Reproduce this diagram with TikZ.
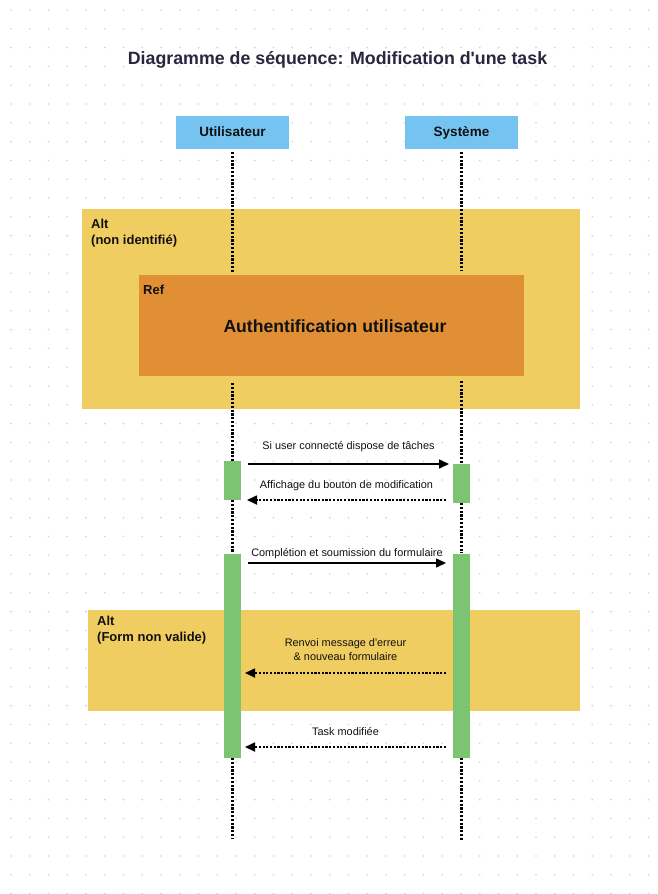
\documentclass[tikz,border=0pt]{standalone}
\usepackage{fontspec}
\setmainfont{Liberation Sans}
\usetikzlibrary{arrows.meta,calc}
\definecolor{gridgray}{HTML}{D2D2D2}
\definecolor{titleink}{HTML}{2B2540}
\definecolor{actorblue}{HTML}{75C3F1}
\definecolor{altyellow}{HTML}{F0CD60}
\definecolor{reforange}{HTML}{E08F35}
\definecolor{actgreen}{HTML}{7CC472}
\definecolor{ink}{HTML}{111111}
\begin{document}
\begin{tikzpicture}[x=1pt,y=-1pt,
  box/.style={anchor=north west, inner sep=0pt, outer sep=0pt, draw=none},
  actor/.style={box, fill=actorblue, minimum width=113pt, minimum height=33pt,
    font=\fontsize{13.5}{15}\selectfont\bfseries, text=ink,
    text height=9.5pt, text depth=2.5pt},
  fragment/.style={box, fill=altyellow},
  refbox/.style={box, fill=reforange},
  activation/.style={box, fill=actgreen, minimum width=17pt},
  tag/.style={anchor=north west, inner sep=0pt, align=left,
    font=\fontsize{13}{15.5}\selectfont\bfseries, text=ink},
  lifeline/.style={draw=black, line width=2.2pt, dash pattern=on 2.2pt off 1.6pt},
  call/.style={draw=black, line width=1.5pt, -{Triangle[length=10pt,width=9pt]}},
  reply/.style={draw=black, line width=1.7pt, dash pattern=on 2.2pt off 1.5pt,
    -{Triangle[length=10pt,width=9pt]}},
  msglabel/.style={midway, inner sep=0pt, align=center,
    font=\fontsize{10.9}{13.5}\selectfont, text=ink}
]
\useasboundingbox (0,0) rectangle (657,894);
\fill[white] (0,0) rectangle (657,894);

% dotted canvas
\foreach \i in {0,...,34}
  \foreach \j in {0,...,47}
    \fill[gridgray] (11+18.75*\i, 10+18.8*\j) circle (0.9pt);

% title
\node[font=\fontsize{17.8}{20}\selectfont\bfseries, text=titleink] (title) at (337.5,60)
  {Diagramme de séquence: Modification d\textquotesingle une task};

% participants
\node[actor] (ua) at (176,116) {Utilisateur};
\node[actor] (sa) at (405,116) {Système};

% combined fragments
\node[fragment, minimum width=498pt, minimum height=200pt] (alt1) at (82,209) {};
\node[tag] (alt1tag) at (91,219) {Alt\\(non identifié)};
\node[fragment, minimum width=492pt, minimum height=101pt] (alt2) at (88,610) {};
\node[tag] (alt2tag) at (97,616) {Alt\\(Form non valide)};

% end points of the lifelines
\coordinate (uend) at (232.5,838);
\coordinate (send) at (461.5,840);

% lifelines above the reference frame
\draw[lifeline, shorten <=3pt, shorten >=3pt] (ua.south) -- (ua.south |- 0,275);
\draw[lifeline, shorten <=3pt, shorten >=4pt] (sa.south) -- (sa.south |- 0,275);

% reference frame
\node[refbox, minimum width=385pt, minimum height=101pt] (ref) at (139,275) {};
\node[tag] (reftag) at (143,284.5) {Ref};
\node[font=\fontsize{17.6}{20}\selectfont\bfseries, text=ink] (reftitle) at (335,326)
  {Authentification utilisateur};

% activations
\node[activation, minimum height=39pt] (u1) at (224,461) {};
\node[activation, minimum height=39pt] (s1) at (453,464) {};
\node[activation, minimum height=204pt] (u2) at (224,554) {};
\node[activation, minimum height=204pt] (s2) at (453,554) {};

% lifelines between frames and activations
\draw[lifeline, shorten <=7pt] (ref.south -| u1.north) -- (u1.north);
\draw[lifeline, shorten <=5pt] (ref.south -| s1.north) -- (s1.north);
\draw[lifeline, shorten >=1pt] (u1.south) -- (u2.north);
\draw[lifeline, shorten >=1pt] (s1.south) -- (s2.north);
\draw[lifeline] (u2.south) -- (u2.south |- uend);
\draw[lifeline] (s2.south) -- (s2.south |- send);

% messages
\draw[call] ([xshift=7pt]u1.east |- s1.north) -- ([xshift=-4pt]s1.west |- s1.north)
  node[msglabel, yshift=17pt] {Si user connecté dispose de tâches};
\draw[reply] ([xshift=-7pt]s1.west |- u1.south) -- ([xshift=6pt]u1.east |- u1.south)
  node[msglabel, yshift=14pt] {Affichage du bouton de modification};
\draw[call] ([shift={(7pt,-9pt)}]u2.north east) -- ([shift={(-7pt,-9pt)}]s2.north west)
  node[msglabel, yshift=9pt] {Complétion et soumission du formulaire};
\draw[reply] ([shift={(-7pt,-119pt)}]s2.north west) -- ([shift={(4pt,-119pt)}]u2.north east)
  node[msglabel, yshift=23.5pt] {Renvoi message d\textquotesingle erreur\\\& nouveau formulaire};
\draw[reply] ([shift={(-7pt,-193pt)}]s2.north west) -- ([shift={(4pt,-193pt)}]u2.north east)
  node[msglabel, yshift=15pt] {Task modifiée};
\end{tikzpicture}
\end{document}
